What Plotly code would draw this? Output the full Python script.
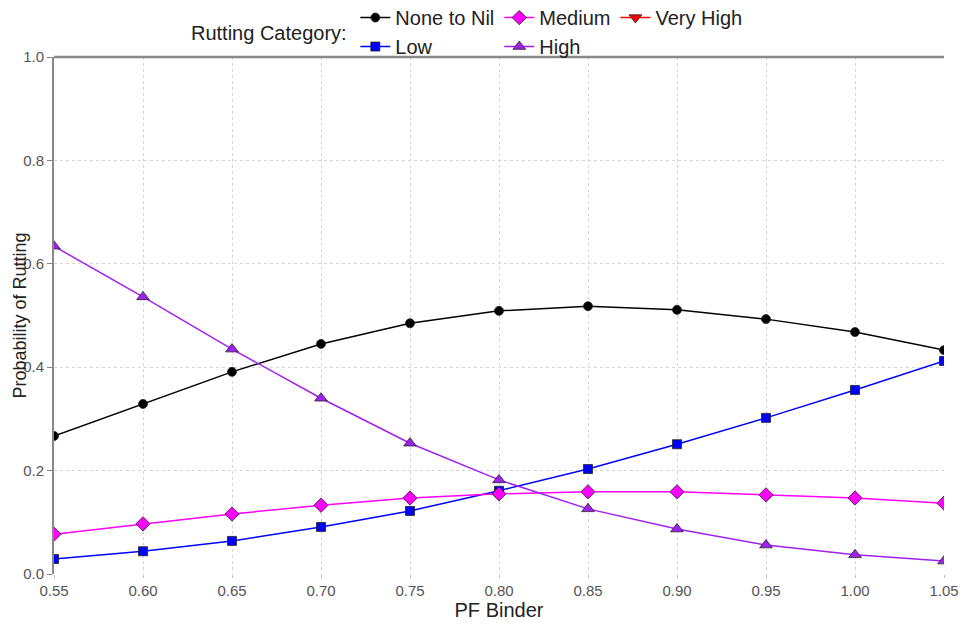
import plotly.graph_objects as go

pf_binder = [0.55, 0.60, 0.65, 0.70, 0.75, 0.80, 0.85, 0.90, 0.95, 1.00, 1.05]
none_to_nil = [0.267, 0.329, 0.391, 0.445, 0.485, 0.509, 0.518, 0.511, 0.493, 0.468, 0.433]
low = [0.029, 0.044, 0.064, 0.091, 0.122, 0.161, 0.203, 0.251, 0.302, 0.356, 0.412]
medium = [0.077, 0.097, 0.116, 0.133, 0.147, 0.155, 0.159, 0.159, 0.153, 0.147, 0.137]
high = [0.634, 0.536, 0.435, 0.340, 0.253, 0.182, 0.126, 0.087, 0.056, 0.037, 0.025]
very_high = [None] * 11

x_ticks = [0.55, 0.60, 0.65, 0.70, 0.75, 0.80, 0.85, 0.90, 0.95, 1.00, 1.05]
x_ticklabels = ["0.55", "0.60", "0.65", "0.70", "0.75", "0.80", "0.85", "0.90", "0.95", "1.00", "1.05"]
y_ticks = [0.0, 0.2, 0.4, 0.6, 0.8, 1.0]
y_ticklabels = ["0.0", "0.2", "0.4", "0.6", "0.8", "1.0"]

series = [
    ("None to Nil", none_to_nil, "#000000", "circle", 9, "g1"),
    ("Low", low, "#0000ff", "square", 9, "g1"),
    ("Medium", medium, "#ff00ff", "diamond", 11, "g2"),
    ("High", high, "#a020f0", "triangle-up", 11, "g2"),
    ("Very High", very_high, "#ff0000", "triangle-down", 11, "g3"),
]

FONT = "Liberation Sans, Arial, sans-serif"

fig = go.Figure()
for name, ys, color, sym, msize, grp in series:
    fig.add_trace(go.Scatter(
        x=pf_binder, y=ys, name=name, mode="lines+markers",
        legendgroup=grp,
        line=dict(color=color, width=1.5),
        marker=dict(symbol=sym, size=msize, color=color, line=dict(color="#222222", width=0.8)),
        cliponaxis=True,
    ))

fig.update_layout(
    width=969, height=624,
    paper_bgcolor="white", plot_bgcolor="white",
    margin=dict(l=46, r=33, t=49, b=58, autoexpand=False),
    font=dict(family=FONT, size=15, color="#222222"),
    legend=dict(
        orientation="h", traceorder="grouped", tracegroupgap=8,
        xref="paper", x=0.3386, xanchor="left",
        yref="paper", y=1.114, yanchor="top",
        font=dict(size=20, color="#222222"), itemwidth=30,
        bgcolor="rgba(0,0,0,0)",
    ),
    showlegend=True,
)
fig.add_annotation(
    text="Rutting Category:", xref="paper", yref="paper",
    x=0.3314, y=1.046, xanchor="right", yanchor="middle",
    showarrow=False, font=dict(size=20, color="#222222"),
)
# y-axis title placed as a rotated annotation for exact positioning
fig.add_annotation(
    text="Probability of Rutting", xref="paper", yref="paper",
    x=-0.0393, y=0.5, xanchor="center", yanchor="middle", textangle=-90,
    showarrow=False, font=dict(size=18, color="#222222"),
)
fig.update_xaxes(
    range=[0.55, 1.05], tickvals=x_ticks, ticktext=x_ticklabels,
    title=dict(text="PF Binder", standoff=2, font=dict(size=20, color="#222222")),
    tickfont=dict(size=15, color="#555555"),
    showgrid=True, gridcolor="#d6d6d6", griddash="dot", gridwidth=1,
    ticks="outside", ticklen=3, tickcolor="#bbbbbb",
    showline=False, zeroline=False, automargin=True,
)
fig.update_yaxes(
    range=[0, 1.0], tickvals=y_ticks, ticktext=y_ticklabels,
    tickfont=dict(size=15, color="#555555"),
    showgrid=True, gridcolor="#d6d6d6", griddash="dot", gridwidth=1,
    ticks="outside", ticklen=5, tickcolor="#888888",
    showline=True, linecolor="#888888", linewidth=2, zeroline=False, automargin=True,
)
fig.add_shape(type="line", xref="paper", yref="paper", x0=0, x1=1, y0=1, y1=1,
              line=dict(color="#888888", width=2.5))

fig.write_html("out.html")
